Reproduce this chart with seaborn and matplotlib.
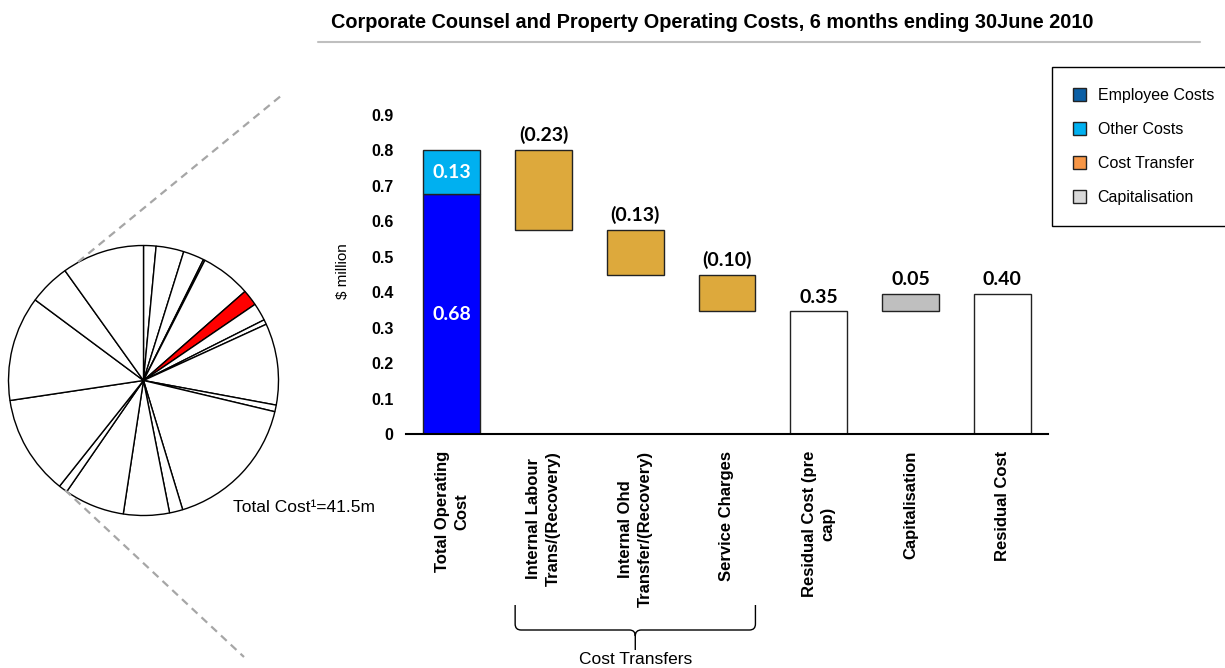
import numpy as np
import pandas as pd
import matplotlib
matplotlib.use("Agg")
import matplotlib.pyplot as plt
import seaborn as sns
from matplotlib.patches import Patch, PathPatch
from matplotlib.path import Path
from matplotlib.lines import Line2D
from matplotlib.transforms import blended_transform_factory

# ---- data ($ million) ----
categories = [
    "Total Operating\nCost",
    "Internal Labour\nTrans/(Recovery)",
    "Internal Ohd\nTransfer/(Recovery)",
    "Service Charges",
    "Residual Cost (pre\ncap)",
    "Capitalisation",
    "Residual Cost",
]
employee_costs = 0.676
other_costs = 0.126
cost_transfers = [-0.226, -0.127, -0.102]
capitalisation = 0.049

# breakdown of the organisation-wide cost base ($m); one segment is this unit
segment_costs = [0.62, 1.38, 1.04, 0.08, 2.50, 0.80, 0.88, 0.24, 4.05, 0.33,
                 6.89, 0.66, 2.28, 3.00, 0.44, 4.96, 5.21, 2.05, 4.10]
highlight_segment = 5
total_cost_label = "Total Cost\u00b9=41.5m"

legend_labels = ["Employee Costs", "Other Costs", "Cost Transfer", "Capitalisation"]
legend_colors = ["#0B5FA5", "#00B0F0", "#F79646", "#D9D9D9"]

title = "Corporate Counsel and Property Operating Costs, 6 months ending 30June 2010"

# ---- waterfall levels ----
total = employee_costs + other_costs
levels = total + np.cumsum(cost_transfers)
transfer_tops = np.concatenate([[total], levels[:-1]])
residual_pre = levels[-1]
residual = residual_pre + capitalisation

segments = pd.DataFrame({
    "category": [categories[0], categories[0], categories[1], categories[2],
                 categories[3], categories[4], categories[5], categories[6]],
    "height": [employee_costs, other_costs, -cost_transfers[0], -cost_transfers[1],
               -cost_transfers[2], residual_pre, capitalisation, residual],
    "bottom": [0, employee_costs, levels[0], levels[1], levels[2], 0, residual_pre, 0],
    "kind": ["employee", "other", "transfer", "transfer", "transfer",
             "residual", "cap", "residual"],
})
kind_colors = {"employee": "#0000FF", "other": "#00B0F0", "transfer": "#DDA93C",
               "cap": "#BFBFBF", "residual": "#FFFFFF"}

# ---- figure ----
sns.set_theme(style="white")
plt.rcParams["font.family"] = ["Liberation Sans", "DejaVu Sans"]
plt.rcParams.update({"text.color": "black", "axes.labelcolor": "black",
                     "xtick.color": "black", "ytick.color": "black"})

W, H = 1225, 668
fig = plt.figure(figsize=(W / 100, H / 100), dpi=100)


def fy(y):
    return 1 - y / H


def rect(x0, y0, w, h):
    return [x0 / W, 1 - (y0 + h) / H, w / W, h / H]


ax = fig.add_axes(rect(406, 115, 642, 319.3))
for kind, color in kind_colors.items():
    sub = segments[segments["kind"] == kind]
    sns.barplot(data=sub, x="category", y="height", order=categories,
                bottom=sub["bottom"].to_numpy(), color=color, saturation=1,
                edgecolor="#222222", linewidth=1, width=0.62, errorbar=None, ax=ax)

ax.set_xlim(-0.5, 6.5)
ax.set_ylim(0, 0.9)
yt = np.round(np.arange(0, 0.91, 0.1), 1)
ax.set_yticks(yt)
ax.set_yticklabels(["0" if v == 0 else f"{v:.1f}" for v in yt],
                   fontweight="bold", fontsize=11.5)
ax.set_xticks(range(len(categories)))
ax.set_xticklabels(categories, rotation=90, fontweight="bold", fontsize=12,
                   va="top", ha="center", multialignment="center", linespacing=1.35)
ax.tick_params(axis="y", length=0, pad=9)
ax.tick_params(axis="x", length=0, pad=12)
ax.set_xlabel("")
ax.set_ylabel("$ million", fontsize=11, va="center")
ax.yaxis.set_label_coords(-0.098, 0.51)
for side in ["top", "right", "left"]:
    ax.spines[side].set_visible(False)
ax.spines["bottom"].set_color("black")
ax.spines["bottom"].set_linewidth(1.5)
ax.grid(False)

label_font = dict(family=["Lato", "DejaVu Sans"], fontweight="bold", fontsize=14)
ax.text(0, employee_costs / 2, f"{employee_costs:.2f}", color="white",
        ha="center", va="center", **label_font)
ax.text(0, employee_costs + other_costs / 2, f"{other_costs:.2f}", color="white",
        ha="center", va="center", **label_font)


def top_label(x, y, text):
    ax.annotate(text, (x, y), xytext=(0, 4), textcoords="offset points",
                ha="center", va="bottom", color="black", **label_font)


for i, (t, top) in enumerate(zip(cost_transfers, transfer_tops)):
    top_label(i + 1, top, f"({abs(t):.2f})")
top_label(4, residual_pre, f"{residual_pre:.2f}")
top_label(5, residual, f"{capitalisation:.2f}")
top_label(6, residual, f"{residual:.2f}")

# ---- brace under the cost-transfer group ----
bt = blended_transform_factory(ax.transData, fig.transFigure)
half = 0.31
xl, xm, xr = 1 - half, 2, 3 + half
r = 0.065
y_top, y_bar, y_tip = fy(605), fy(630), fy(650)
y_in = fy(624)
y_in2 = fy(636)
verts = [(xl, y_top), (xl, y_in), (xl, y_bar), (xl + r, y_bar), (xm - r, y_bar),
         (xm, y_bar), (xm, y_in2), (xm, y_tip),
         (xm, y_in2), (xm, y_bar), (xm + r, y_bar), (xr - r, y_bar),
         (xr, y_bar), (xr, y_in), (xr, y_top)]
codes = [Path.MOVETO, Path.LINETO, Path.CURVE3, Path.CURVE3, Path.LINETO,
         Path.CURVE3, Path.CURVE3, Path.LINETO,
         Path.MOVETO, Path.CURVE3, Path.CURVE3, Path.LINETO,
         Path.CURVE3, Path.CURVE3, Path.LINETO]
fig.add_artist(PathPatch(Path(verts, codes), transform=bt, facecolor="none",
                         edgecolor="black", linewidth=1))
fig.text(xm, fy(659), "Cost Transfers", transform=bt, ha="center", va="center",
         fontsize=12.5)

# ---- cost base pie ----
R = 135
pad = 1.04
cx, cy = 143.5, 380.5
ax_pie = fig.add_axes(rect(cx - R * pad, cy - R * pad, 2 * R * pad, 2 * R * pad))
pie_colors = ["#FF0000" if i == highlight_segment else "white"
              for i in range(len(segment_costs))]
ax_pie.pie(segment_costs, startangle=90, counterclock=False, colors=pie_colors,
           wedgeprops=dict(edgecolor="black", linewidth=1))
ax_pie.set_xlim(-pad, pad)
ax_pie.set_ylim(-pad, pad)
ax_pie.set_aspect("equal")
ax_pie.axis("off")
fig.text(233 / W, fy(508), total_cost_label, ha="left", va="center", fontsize=12.5)

dash = dict(color="#A6A6A6", linewidth=1.6, linestyle=(0, (3.5, 2.5)))
fig.add_artist(Line2D([78 / W, 282 / W], [fy(262), fy(95)], **dash))
fig.add_artist(Line2D([65 / W, 244 / W], [fy(490), fy(657)], **dash))

# ---- title ----
fig.text(712 / W, fy(22), title, ha="center", va="center",
         fontsize=14.3, fontweight="bold")
fig.add_artist(Line2D([318 / W, 1200 / W], [fy(42), fy(42)],
                      color="#BFBFBF", linewidth=1.5))

# ---- legend ----
handles = [Patch(facecolor=c, edgecolor="#222222", linewidth=1, label=l)
           for l, c in zip(legend_labels, legend_colors)]
leg = fig.legend(handles=handles, loc="upper left",
                 bbox_to_anchor=(1052 / W, fy(67)), frameon=True, fancybox=False,
                 edgecolor="black", framealpha=1, fontsize=11.5, borderpad=1.3,
                 handlelength=0.85, handleheight=0.85, handletextpad=0.7,
                 labelspacing=1.2, borderaxespad=0)
leg.get_frame().set_linewidth(1)

fig.savefig("out.png", dpi=100)
